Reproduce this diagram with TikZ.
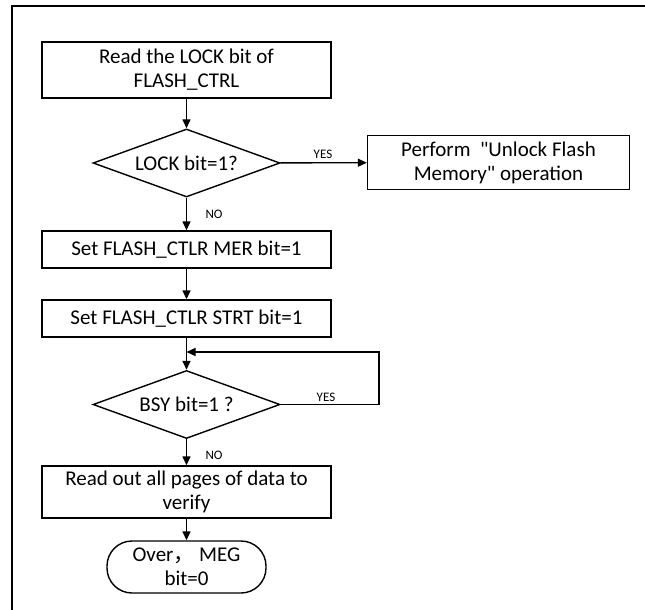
\documentclass[tikz,border=0pt]{standalone}
\usepackage{fontspec}
\setmainfont{Carlito}
\newfontfamily\cjk{Noto Sans CJK SC}
\usetikzlibrary{shapes.geometric,arrows.meta}
\begin{document}
\begin{tikzpicture}[x=1pt,y=-1pt,
  every node/.style={font=\fontsize{21}{24}\selectfont},
  procbox/.style={draw,line width=1.4pt,inner sep=0pt,align=center},
  decbox/.style={draw,diamond,line width=1.4pt,inner sep=0pt,minimum width=187pt,minimum height=68pt,aspect=2.75},
  termbox/.style={draw,line width=1.4pt,rounded corners=25pt,inner sep=0pt,align=center,minimum width=159pt,minimum height=52pt},
  arr/.style={line width=1.4pt,-{Triangle[length=9pt,width=8pt]}},
  lbl/.style={font=\fontsize{13}{15}\selectfont,inner sep=1pt}]
\useasboundingbox (0,0) rectangle (645,610);
\draw[line width=1.6pt] (12,610) -- (12,6) -- (645,6);

\node[procbox,minimum width=289pt,minimum height=56pt] (b1) at (186.5,70) {Read the LOCK bit of\\FLASH\_CTRL};
\node[decbox] (d1) at (186.5,163) {LOCK bit=1?};
\node[procbox,minimum width=262pt,minimum height=54pt] (b2) at (498.5,162.5) {Perform\ \ \textquotedbl Unlock Flash\\Memory\textquotedbl\ operation};
\node[procbox,minimum width=289pt,minimum height=37pt] (b3) at (186.5,249.5) {Set FLASH\_CTLR MER bit=1};
\node[procbox,minimum width=289pt,minimum height=37pt] (b4) at (186.5,318.5) {Set FLASH\_CTLR STRT bit=1};
\node[decbox] (d2) at (186.5,404.5) {BSY bit=1 ?};
\node[procbox,minimum width=289pt,minimum height=52pt] (b5) at (186.5,492) {Read out all pages of data to\\verify};
\node[termbox] (t) at (186.5,567) {Over{\cjk ，} MEG\\bit=0};

\coordinate (join) at (186.5,352);
\coordinate (lr) at (379,352);

\draw[arr] (b1) -- (d1);
\draw[arr] (d1) -- (b2);
\draw[arr] (d1) -- (b3);
\draw[arr] (b3) -- (b4);
\draw[arr] (b4) -- (d2);
\draw[arr] (d2.east) -| (lr) -- (join);
\draw[arr] (d2) -- (b5);
\draw[arr] (b5) -- (t);

\node[lbl] (yes1) at (323,154) {YES};
\node[lbl] (no1) at (214,214) {NO};
\node[lbl] (yes2) at (326,397) {YES};
\node[lbl] (no2) at (214,455) {NO};
\end{tikzpicture}
\end{document}
